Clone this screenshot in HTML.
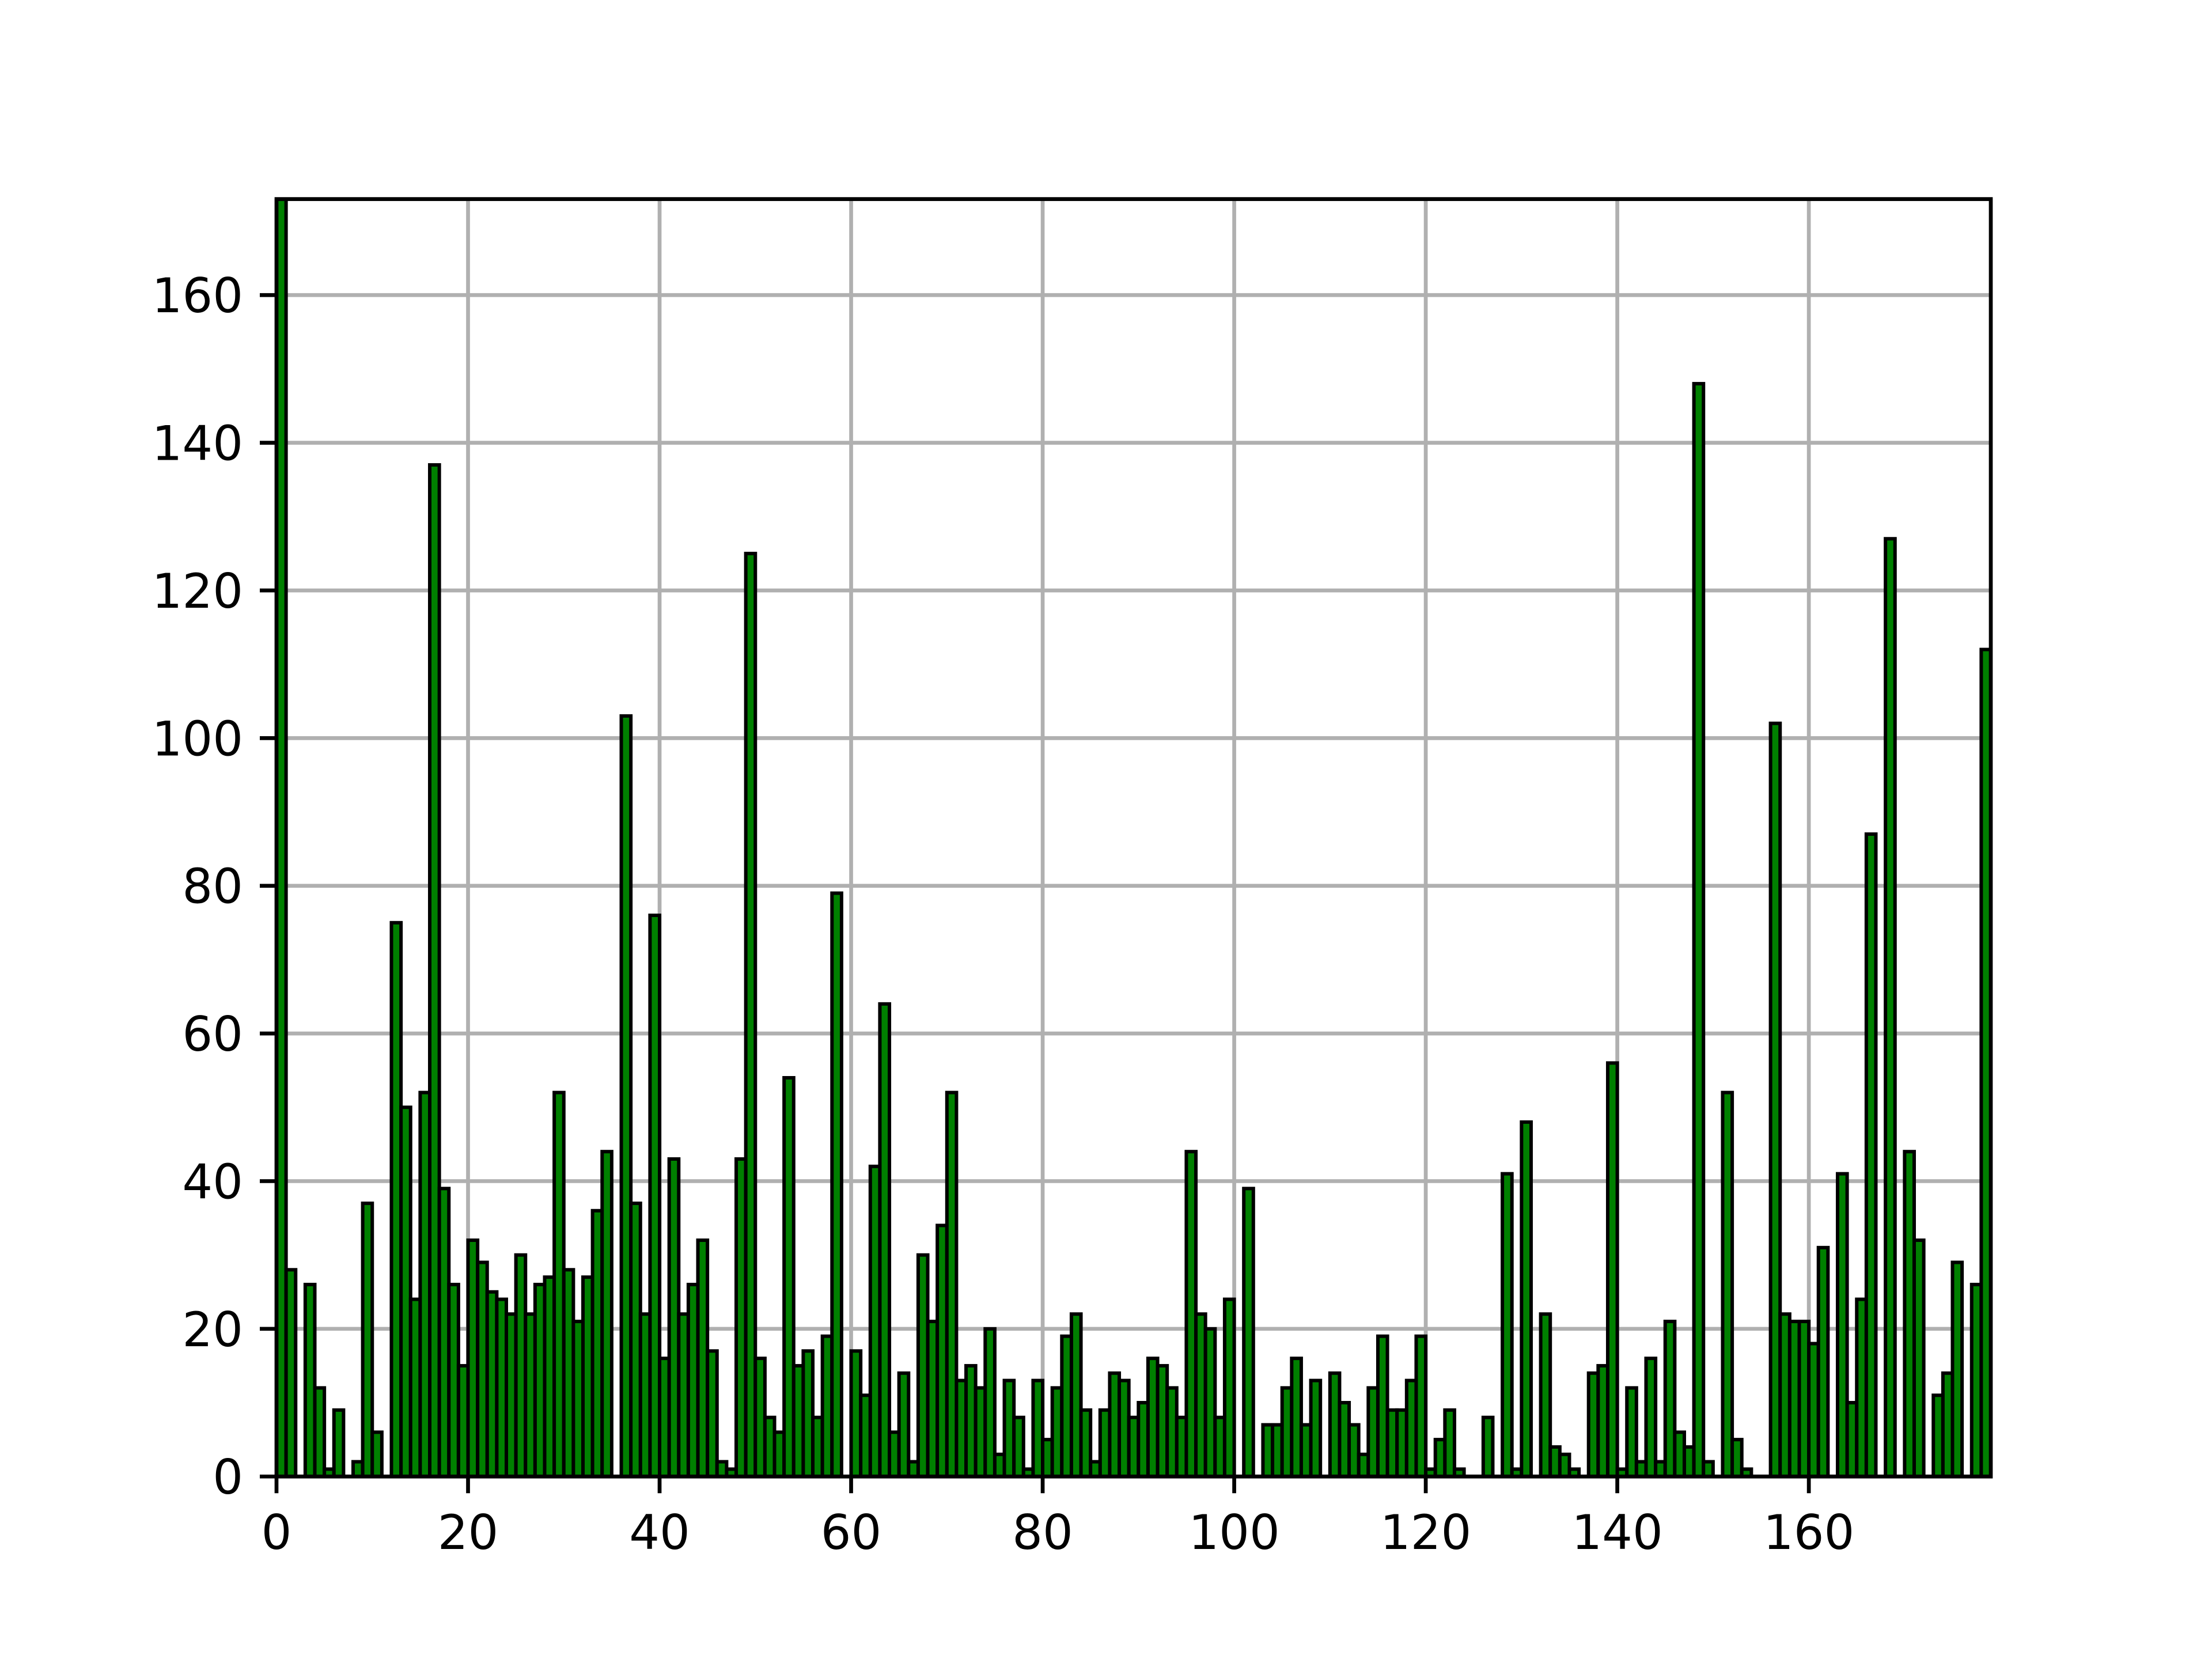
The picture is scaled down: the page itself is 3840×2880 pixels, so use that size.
<!DOCTYPE html>
<html><head><meta charset="utf-8"><style>
html,body{margin:0;padding:0;background:#fff;}
svg{display:block;}
text{font-family:"DejaVu Sans","Liberation Sans",sans-serif;font-size:83px;fill:#000;}
</style></head><body>
<svg id="chart" width="3840" height="2880" viewBox="0 0 3840 2880" xmlns="http://www.w3.org/2000/svg">
<rect x="0" y="0" width="3840" height="2880" fill="#fff"/>
<g id="grid"></g>
<g id="bars"></g>
<g id="axes"></g>
</svg>
<script>
const counts = [173,28,0,26,12,1,9,0,2,37,6,0,75,50,24,52,137,39,26,15,
32,29,25,24,22,30,22,26,27,52,28,21,27,36,44,0,103,37,22,76,
16,43,22,26,32,17,2,1,43,125,16,8,6,54,15,17,8,19,79,0,
17,11,42,64,6,14,2,30,21,34,52,13,15,12,20,3,13,8,1,13,
5,12,19,22,9,2,9,14,13,8,10,16,15,12,8,44,22,20,8,24,
0,39,0,7,7,12,16,7,13,0,14,10,7,3,12,19,9,9,13,19,
1,5,9,1,0,0,8,0,41,1,48,0,22,4,3,1,0,14,15,56,
1,12,2,16,2,21,6,4,148,2,0,52,5,1,0,0,102,22,21,21,
18,31,0,41,10,24,87,0,127,0,44,32,0,11,14,29,0,26,112];
const xTicks = [0,20,40,60,80,100,120,140,160];
const yTicks = [0,20,40,60,80,100,120,140,160];
const xMin = 0, xMax = 179, yMin = 0, yMax = 173;

const L = 480, R = 3456, T = 345.6, B = 2563.2;
const NS = "http://www.w3.org/2000/svg";
function sx(v){ return L + (v - xMin) / (xMax - xMin) * (R - L); }
function sy(v){ return B - (v - yMin) / (yMax - yMin) * (B - T); }
function mk(tag, attrs, parent){
  const e = document.createElementNS(NS, tag);
  for (const k in attrs) e.setAttribute(k, attrs[k]);
  parent.appendChild(e);
  return e;
}
const grid = document.getElementById('grid');
const bars = document.getElementById('bars');
const axes = document.getElementById('axes');

xTicks.forEach(t => {
  const g = mk('line', {x1: sx(t), x2: sx(t), y1: T, y2: B, stroke: '#b0b0b0', 'stroke-width': 6.7}, grid);
  
  
});
yTicks.forEach(t => {
  const g = mk('line', {x1: L, x2: R, y1: sy(t), y2: sy(t), stroke: '#b0b0b0', 'stroke-width': 6.7}, grid);
  
  
});

counts.forEach((c, i) => {
  if (c <= 0) return;
  const x0 = sx(i), x1 = sx(i + 1);
  const r = mk('rect', {x: x0, y: sy(c), width: x1 - x0, height: sy(0) - sy(c), fill: '#008000', stroke: '#000', 'stroke-width': 6}, bars);
  
  
});

const frame = mk('rect', {x: L, y: T, width: R - L, height: B - T, fill: 'none', stroke: '#000', 'stroke-width': 6.7}, axes);



xTicks.forEach(t => {
  const tk = mk('line', {x1: sx(t), x2: sx(t), y1: B, y2: B + 29, stroke: '#000', 'stroke-width': 6.7}, axes);
  
  
  const lb = mk('text', {x: sx(t), y: B + 126, 'text-anchor': 'middle'}, axes);
  lb.textContent = String(t);
  
  
});
yTicks.forEach(t => {
  const tk = mk('line', {x1: L - 29, x2: L, y1: sy(t), y2: sy(t), stroke: '#000', 'stroke-width': 6.7}, axes);
  
  
  const lb = mk('text', {x: L - 58, y: sy(t) + 30, 'text-anchor': 'end'}, axes);
  lb.textContent = String(t);
  
  
});
</script>
</body></html>
